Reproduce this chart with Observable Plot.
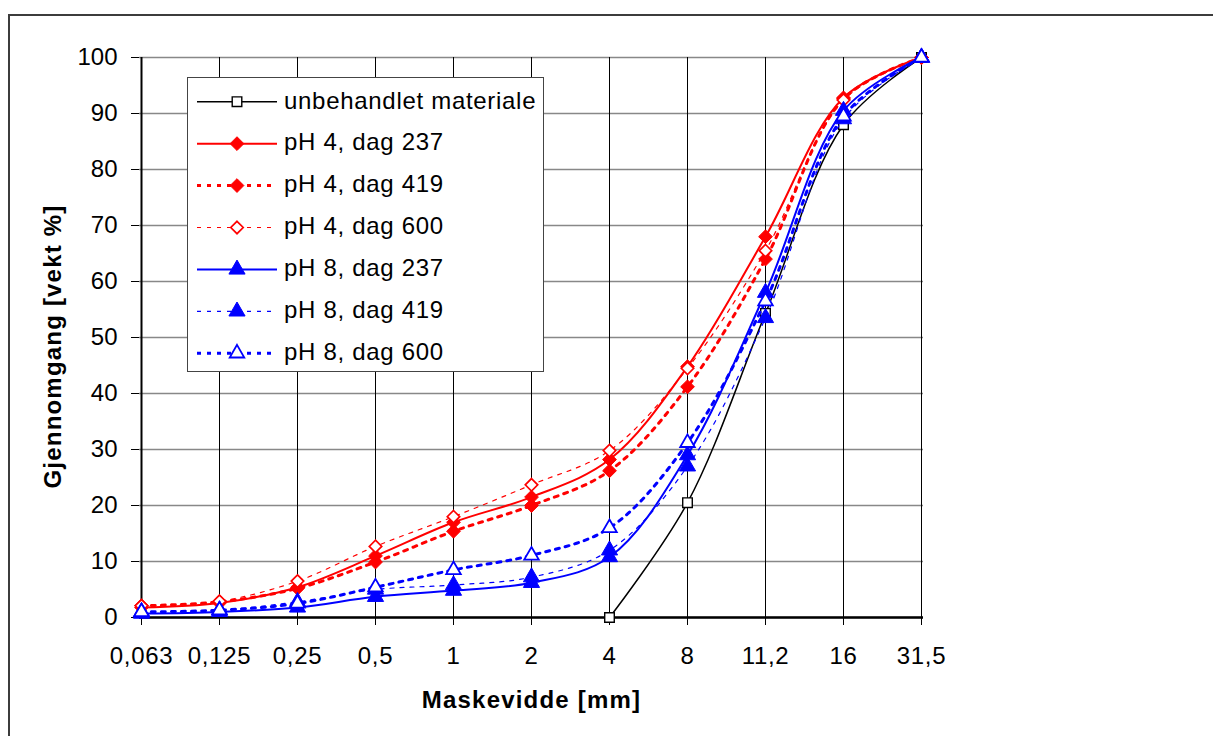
<!DOCTYPE html>
<html>
<head>
<meta charset="utf-8">
<script src="https://cdn.jsdelivr.net/npm/d3@7"></script>
<script src="https://cdn.jsdelivr.net/npm/@observablehq/plot@0.6"></script>
<style>
  html, body { margin: 0; padding: 0; background: #fff; overflow: hidden; }
  #wrap { position: relative; width: 1213px; height: 736px; font-family: 'Liberation Sans', Arial, sans-serif; }
  #chart svg { display: block; background: transparent; }
  #chart [aria-label="x-axis tick label"] text { letter-spacing: 0.7px; }
  #chart [aria-label="text"] text { letter-spacing: 1.2px; }
  #frame { position: absolute; left: 8px; top: 14px; width: 1400px; height: 900px;
           border: 2px solid #3c3c3c; pointer-events: none; }
  #legend { position: absolute; left: 187px; top: 77px; }
  #legend text { letter-spacing: 0.7px; }
</style>
</head>
<body>
<div id="wrap">
  <div id="chart"></div>
  <div id="frame"></div>
</div>
<script>
// Sieve sizes (mm) as printed on the category axis
const xLabels = ["0,063", "0,125", "0,25", "0,5", "1", "2", "4", "8", "11,2", "16", "31,5"];
const yTicks = [0, 10, 20, 30, 40, 50, 60, 70, 80, 90, 100];

const seriesNames = [
  "unbehandlet materiale",
  "pH 4, dag 237",
  "pH 4, dag 419",
  "pH 4, dag 600",
  "pH 8, dag 237",
  "pH 8, dag 419",
  "pH 8, dag 600"
];

// Passing fraction (weight %) per sieve size
const unbehandlet = [null, null, null, null, null, null, 0, 20.5, 54.3, 88.0, 100];
const pH4dag237   = [1.8, 2.6, 5.4, 11.0, 17.0, 21.5, 28.2, 44.8, 68.0, 92.8, 100];
const pH4dag419   = [2.1, 2.8, 5.2, 9.9, 15.4, 20.0, 26.2, 41.2, 64.0, 92.6, 100];
const pH4dag600   = [2.1, 2.9, 6.5, 12.7, 18.0, 23.7, 29.8, 44.5, 65.5, 92.4, 100];
const pH8dag237   = [0.7, 1.0, 1.8, 3.7, 4.8, 6.2, 10.8, 29.0, 58.0, 90.5, 100];
const pH8dag419   = [1.0, 1.3, 2.8, 5.0, 5.8, 7.2, 12.0, 27.0, 53.5, 89.0, 100];
const pH8dag600   = [1.0, 1.3, 2.5, 5.4, 8.5, 11.1, 16.0, 31.2, 56.5, 89.5, 100];

const seriesValues = [unbehandlet, pH4dag237, pH4dag419, pH4dag600, pH8dag237, pH8dag419, pH8dag600];

// Line and marker styling for each series
const seriesStyles = [
  {stroke: "#000", width: 1.5, dash: null,  symbol: "square",   r: 5.4, fill: "#fff", mStroke: "#000", mWidth: 1.4},
  {stroke: "#f00", width: 2,   dash: null,  symbol: "diamond2", r: 6.2, fill: "#f00", mStroke: "#f00", mWidth: 1},
  {stroke: "#f00", width: 3,   dash: "4,6", symbol: "diamond2", r: 6.2, fill: "#f00", mStroke: "#f00", mWidth: 1},
  {stroke: "#f00", width: 1.2, dash: "4,6", symbol: "diamond2", r: 5.6, fill: "#fff", mStroke: "#f00", mWidth: 1.7},
  {stroke: "#00f", width: 2,   dash: null,  symbol: "triangle", r: 6.0, fill: "#00f", mStroke: "#00f", mWidth: 1},
  {stroke: "#00f", width: 1.2, dash: "4,6", symbol: "triangle", r: 6.0, fill: "#00f", mStroke: "#00f", mWidth: 1},
  {stroke: "#00f", width: 3,   dash: "4,6", symbol: "triangle", r: 5.4, fill: "#fff", mStroke: "#00f", mWidth: 1.8}
];

const rowsFor = (values) =>
  values.map((v, i) => ({x: xLabels[i], y: v})).filter(d => d.y !== null);

const seriesMarks = seriesValues.flatMap((values, i) => {
  const s = seriesStyles[i];
  const rows = rowsFor(values);
  return [
    Plot.line(rows, {x: "x", y: "y", curve: "catmull-rom", stroke: s.stroke,
      strokeWidth: s.width, strokeDasharray: s.dash ?? undefined}),
    Plot.dot(rows, {x: "x", y: "y", symbol: s.symbol, r: s.r, fill: s.fill,
      stroke: s.mStroke, strokeWidth: s.mWidth})
  ];
});

const chart = Plot.plot({
  width: 1213,
  height: 736,
  marginLeft: 139,
  marginRight: 290,
  marginTop: 57,
  marginBottom: 119,
  style: {fontFamily: "'Liberation Sans', Arial, sans-serif", fontSize: "24px", color: "#000", background: "transparent"},
  x: {type: "point", domain: xLabels, padding: 0},
  y: {domain: [0, 100]},
  marks: [
    Plot.gridY(yTicks, {stroke: "#888", strokeOpacity: 1, strokeWidth: 1.5}),
    Plot.gridX({stroke: "#000", strokeOpacity: 1, strokeWidth: 1}),
    Plot.axisY(yTicks, {tickSize: 8, tickPadding: 14, fontSize: 24, label: null}),
    Plot.axisX({tickSize: 8, tickPadding: 21, fontSize: 24, label: null}),
    Plot.ruleY([0], {stroke: "#000", strokeWidth: 2.5}),
    Plot.ruleX([xLabels[0]], {stroke: "#000", strokeWidth: 2}),
    ...seriesMarks,
    Plot.text(["Maskevidde [mm]"], {text: d => d, frameAnchor: "bottom", textAnchor: "middle",
      lineAnchor: "middle", dy: 83, fontSize: 24, fontWeight: "bold"}),
    Plot.text(["Gjennomgang [vekt %]"], {text: d => d, frameAnchor: "left", textAnchor: "middle",
      lineAnchor: "middle", rotate: -90, dx: -86, dy: 9, fontSize: 24, fontWeight: "bold"})
  ]
});
document.getElementById("chart").appendChild(chart);

// Legend box drawn inside the plotting area
const symbolTypes = {square: d3.symbolSquare, diamond2: d3.symbolDiamond2, triangle: d3.symbolTriangle};
const legend = d3.select("#wrap").append("svg")
  .attr("id", "legend")
  .attr("width", 358).attr("height", 296);
legend.append("rect")
  .attr("x", 0.5).attr("y", 0.5).attr("width", 356).attr("height", 294)
  .attr("fill", "#fff").attr("stroke", "#444").attr("stroke-width", 1);
seriesNames.forEach((name, i) => {
  const s = seriesStyles[i];
  const cy = 24.7 + i * 41.93;
  legend.append("line")
    .attr("x1", 10).attr("x2", 90).attr("y1", cy).attr("y2", cy)
    .attr("stroke", s.stroke).attr("stroke-width", s.width)
    .attr("stroke-dasharray", s.dash);
  legend.append("path")
    .attr("transform", `translate(50,${cy})`)
    .attr("d", d3.symbol(symbolTypes[s.symbol], Math.PI * s.r * s.r)())
    .attr("fill", s.fill).attr("stroke", s.mStroke).attr("stroke-width", s.mWidth);
  legend.append("text")
    .attr("x", 97).attr("y", cy + 6.8)
    .attr("font-size", 24)
    .attr("font-family", "'Liberation Sans', Arial, sans-serif")
    .text(name);
});
</script>
</body>
</html>
